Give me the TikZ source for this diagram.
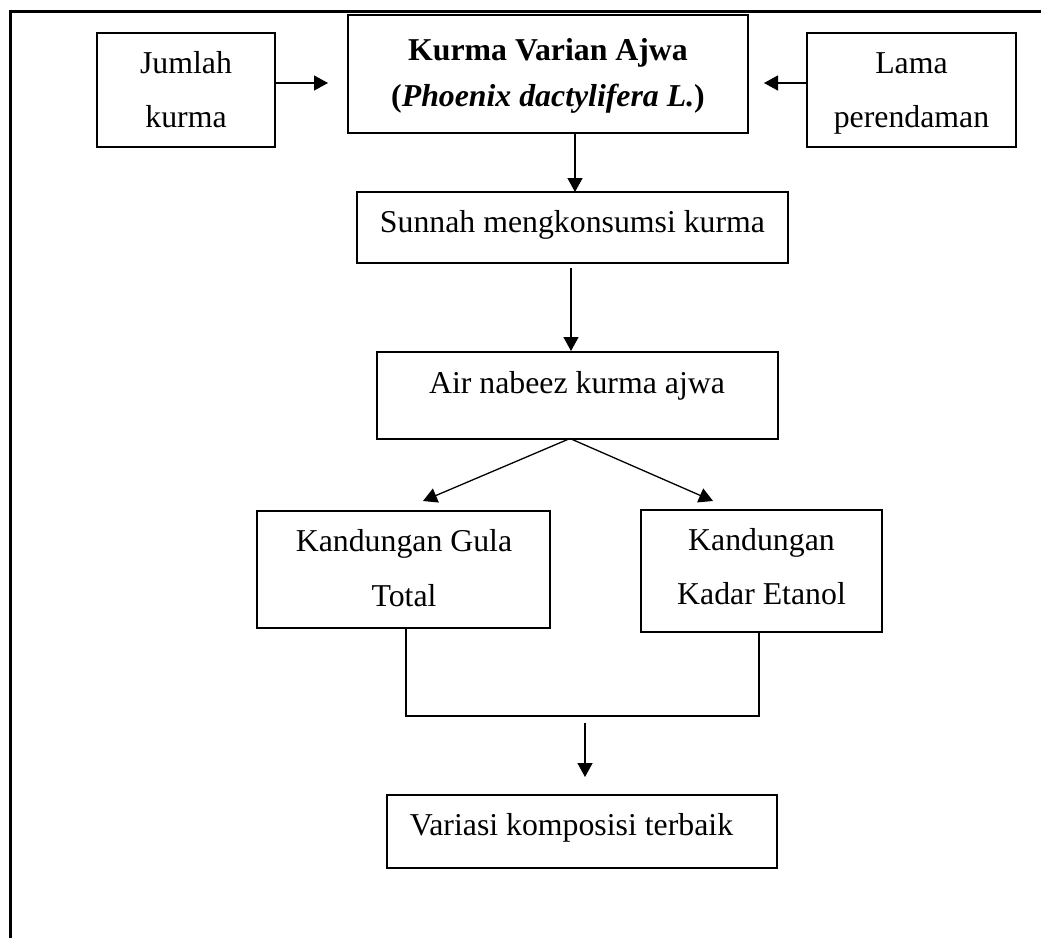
\documentclass[tikz,border=0pt]{standalone}
\usepackage{fontspec}
\setmainfont{Liberation Serif}
\usetikzlibrary{arrows.meta}
\tikzset{
  box/.style={draw=black, line width=0.7pt, inner sep=0pt, outer sep=0pt, rectangle},
  txt/.style={anchor=base, inner sep=0pt, outer sep=0pt, font=\fontsize{15.9}{19}\selectfont},
  conn/.style={draw=black, line width=0.65pt},
  arr/.style={conn, -{Triangle[length=7pt,width=7.5pt]}},
  frameline/.style={draw=black, line width=1.5pt}
}
\begin{document}
\begin{tikzpicture}[x=0.5pt,y=-0.5pt]
\useasboundingbox (0,0) rectangle (1041,938);
% frame
\draw[frameline] (10.5,938) -- (10.5,11.5) -- (1041,11.5);

% boxes
\node[box, minimum width=89pt, minimum height=57pt] (jumlah) at (186,90) {};
\node[box, minimum width=200pt, minimum height=59pt] (kurma) at (548,74) {};
\node[box, minimum width=104.5pt, minimum height=57pt] (lama) at (911.5,90) {};
\node[box, minimum width=215.5pt, minimum height=35.5pt] (sunnah) at (572.5,227.5) {};
\node[box, minimum width=200.5pt, minimum height=43.5pt] (air) at (577.5,395.5) {};
\node[box, minimum width=146.5pt, minimum height=58.5pt] (gula) at (403.5,569.5) {};
\node[box, minimum width=120.5pt, minimum height=61pt] (etanol) at (761.5,571) {};
\node[box, minimum width=195pt, minimum height=36.5pt] (variasi) at (582,831.5) {};

% texts
\node[txt] (t1a) at (186,73) {Jumlah};
\node[txt] (t1b) at (186,127) {kurma};
\node[txt] (t2a) at (548,60) {\bfseries Kurma Varian Ajwa};
\node[txt] (t2b) at (548,106) {\bfseries (\textit{Phoenix dactylifera L.})};
\node[txt] (t3a) at (911.5,73) {Lama};
\node[txt] (t3b) at (911.5,127) {perendaman};
\node[txt] (t4) at (572.5,232) {Sunnah mengkonsumsi kurma};
\node[txt] (t5) at (577,393) {Air nabeez kurma ajwa};
\node[txt] (t6a) at (404,551) {Kandungan Gula};
\node[txt] (t6b) at (404,606) {Total};
\node[txt] (t7a) at (761.5,550) {Kandungan};
\node[txt] (t7b) at (761.5,604) {Kadar Etanol};
\node[txt] (t8) at (571.5,835) {Variasi komposisi terbaik};

% connector coordinates
\coordinate (jtip) at (328,83);
\coordinate (ltip) at (764,83);
\coordinate (s2) at (571,268);
\coordinate (atip) at (571,351);
\coordinate (apex) at (570,438.5);
\coordinate (gtip) at (423,501);
\coordinate (etip) at (713,501);
\coordinate (gbot) at (406,716);
\coordinate (ebot) at (759,716);
\coordinate (v1) at (585,723);
\coordinate (v2) at (585,777);

% connectors
\draw[arr] (jumlah.east |- jtip) -- (jtip);
\draw[arr] (lama.west |- ltip) -- (ltip);
\draw[arr] (kurma.south -| 575,0) -- (sunnah.north -| 575,0);
\draw[arr] (s2) -- (atip);
\draw[arr] (apex) -- (gtip);
\draw[arr] (apex) -- (etip);
\draw[conn] (gula.south -| gbot) -- (gbot) -- (ebot) -- (etanol.south -| ebot);
\draw[arr] (v1) -- (v2);
\end{tikzpicture}
\end{document}
